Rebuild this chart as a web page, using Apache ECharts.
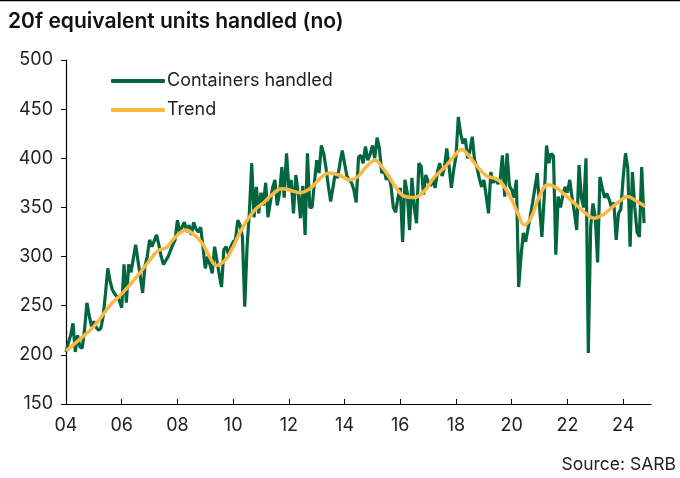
<!DOCTYPE html>
<html lang="en">
    <head>
        <meta charset="UTF-8" />
        <title>20f equivalent units handled</title>
        <script src="https://cdn.jsdelivr.net/npm/echarts@6/dist/echarts.min.js"></script>
        <style>
            * {
                margin: 0;
                padding: 0;
            }
            #chart {
                width: 680px;
                height: 478px;
            }
        </style>
    </head>
    <body>
        <div id="chart"></div>
        <script type="text/javascript">
            // monthly, starting Jan 2004
            const startYear = 2004;
            const containers = [
                203, 212, 220, 232, 203, 220, 208, 207, 226, 253, 240, 229,
                234, 228, 225, 227, 239, 262, 288, 275, 266, 262, 259, 255,
                248, 292, 253, 292, 284, 298, 312, 296, 280, 263, 290, 300,
                317, 310, 316, 322, 312, 300, 292, 296, 300, 306, 312, 317,
                337, 325, 330, 335, 325, 332, 322, 335, 328, 325, 330, 310,
                288, 300, 292, 283, 310, 296, 282, 269, 307, 310, 302, 310,
                315, 317, 337, 332, 320, 249, 310, 345, 395, 340, 371, 344,
                365, 352, 375, 340, 355, 370, 378, 352, 365, 391, 360, 405,
                370, 378, 344, 383, 365, 339, 372, 322, 405, 350, 350, 375,
                398, 385, 413, 405, 390, 372, 356, 370, 385, 380, 395, 408,
                395, 382, 378, 375, 368, 355, 401, 403, 395, 412, 398, 404,
                413, 400, 421, 410, 385, 388, 378, 383, 372, 350, 345, 360,
                370, 315, 378, 365, 327, 380, 350, 334, 395, 392, 363, 383,
                376, 372, 378, 370, 386, 395, 382, 390, 410, 392, 370, 388,
                402, 442, 425, 415, 420, 400, 408, 422, 398, 391, 380, 371,
                378, 362, 344, 386, 375, 380, 374, 378, 403, 361, 405, 372,
                368, 360, 378, 269, 300, 324, 315, 328, 341, 355, 370, 385,
                350, 320, 360, 413, 395, 405, 402, 302, 361, 350, 362, 371,
                365, 378, 360, 345, 327, 393, 360, 350, 400, 202, 330, 354,
                340, 294, 381, 370, 360, 364, 358, 350, 355, 317, 344, 348,
                380, 405, 390, 310, 386, 350, 325, 320, 391, 334
            ];

            const trendYears = [
                2004.0, 2004.5, 2005.0, 2005.6, 2006.0, 2006.5, 2007.0, 2007.3, 2007.6, 2007.9,
                2008.3, 2008.6, 2008.9, 2009.15, 2009.4, 2009.7, 2009.95, 2010.2, 2010.5, 2010.8,
                2011.1, 2011.4, 2011.75, 2012.1, 2012.4, 2012.8, 2013.1, 2013.45, 2013.8, 2014.2,
                2014.5, 2014.8, 2015.1, 2015.35, 2015.6, 2015.85, 2016.1, 2016.5, 2016.9, 2017.2,
                2017.6, 2017.9, 2018.2, 2018.45, 2018.75, 2019.1, 2019.35, 2019.6, 2019.8, 2020.0,
                2020.25, 2020.45, 2020.7, 2021.0, 2021.3, 2021.6, 2021.9, 2022.3, 2022.7, 2022.95,
                2023.3, 2023.6, 2023.9, 2024.15, 2024.5, 2024.8
            ];
            const trendValues = [
                204, 216, 229, 251, 262, 278, 296, 306, 309, 319,
                327, 322, 313, 300, 291, 296, 307, 322, 337, 348,
                355, 363, 369, 367, 365, 370, 379, 385, 383, 378,
                382, 392, 398, 391, 381, 370, 362, 360, 368, 380,
                391, 401, 409, 403, 392, 382, 380, 376, 368, 358,
                342, 332, 340, 362, 373, 370, 363, 353, 343, 339,
                343, 350, 357, 361, 356, 351
            ];

            const xTicks = [2004, 2006, 2008, 2010, 2012, 2014, 2016, 2018, 2020, 2022, 2024];

            const green = '#03663f';
            const orange = '#fbb843';
            const font = 'Inter, "Noto Sans", sans-serif';

            const chart = echarts.init(document.getElementById('chart'));

            const option = {
                backgroundColor: '#fff',
                animation: false,
                textStyle: { fontFamily: font },
                title: {
                    text: '20f equivalent units handled (no)',
                    left: 3,
                    top: 6,
                    textStyle: { fontSize: 21, fontWeight: 600, color: '#111', fontFamily: font }
                },
                graphic: [
                    {
                        type: 'line',
                        shape: { x1: 0, y1: 0.5, x2: 680, y2: 0.5 },
                        style: { stroke: '#000', lineWidth: 1.5 }
                    },
                    {
                        type: 'text',
                        right: 4,
                        top: 456,
                        style: { text: 'Source: SARB', fontSize: 17.5, fill: '#222', fontFamily: font }
                    }
                ],
                legend: {
                    orient: 'vertical',
                    left: 106,
                    top: 66,
                    itemWidth: 54,
                    itemHeight: 4,
                    itemGap: 9,
                    icon: 'roundRect',
                    textStyle: { fontSize: 18, color: '#222', lineHeight: 20, padding: [0, 0, 0, -3] },
                    data: ['Containers handled', 'Trend']
                },
                grid: { left: 66, right: 29, top: 60, bottom: 74 },
                xAxis: {
                    type: 'value',
                    min: 2004,
                    max: 2025,
                    splitLine: { show: false },
                    axisLine: { lineStyle: { color: '#000', width: 1.2 } },
                    axisTick: {
                        inside: true,
                        length: 5,
                        lineStyle: { color: '#000' },
                        customValues: xTicks
                    },
                    axisLabel: {
                        fontSize: 18,
                        color: '#222',
                        margin: 13,
                        customValues: xTicks,
                        formatter: v => String(Math.round(v) % 100).padStart(2, '0')
                    }
                },
                yAxis: {
                    type: 'value',
                    min: 150,
                    max: 500,
                    interval: 50,
                    splitLine: { show: false },
                    axisLine: { show: true, lineStyle: { color: '#000', width: 1.2 } },
                    axisTick: { show: true, length: 5, lineStyle: { color: '#000' } },
                    axisLabel: { fontSize: 18, color: '#222', margin: 13 }
                },
                series: [
                    {
                        name: 'Containers handled',
                        type: 'line',
                        showSymbol: false,
                        color: green,
                        lineStyle: { width: 3.2, color: green },
                        data: containers.map((v, i) => [startYear + i / 12, v])
                    },
                    {
                        name: 'Trend',
                        type: 'line',
                        showSymbol: false,
                        smooth: 0.4,
                        color: orange,
                        lineStyle: { width: 3.5, color: orange },
                        data: trendValues.map((v, i) => [trendYears[i], v])
                    }
                ]
            };

            chart.setOption(option);
        </script>
    </body>
</html>
